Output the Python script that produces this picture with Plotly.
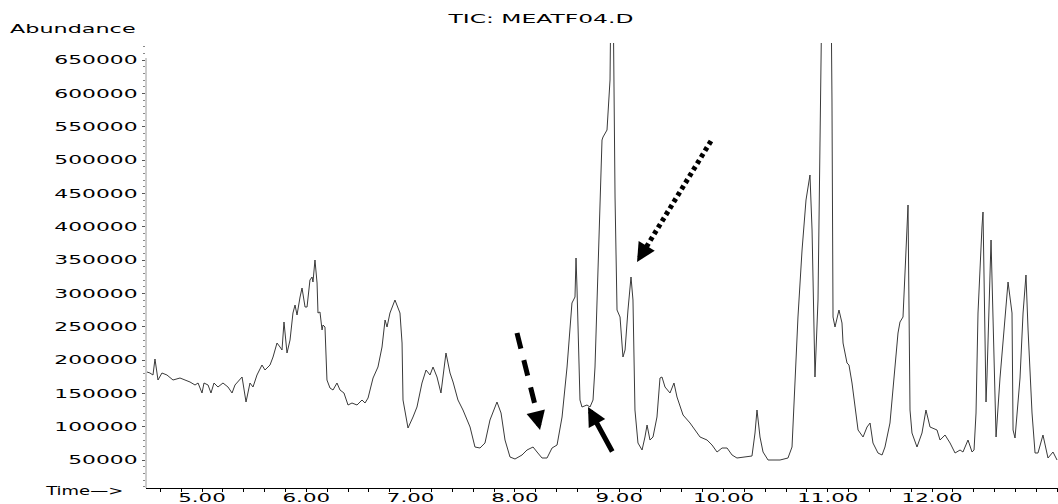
import plotly.graph_objects as go

# Retention time (min) and abundance
time_min = [
    4.473, 4.501, 4.530, 4.549, 4.578, 4.616, 4.664, 4.722, 4.789, 4.885,
    4.933, 4.962, 5.000, 5.019, 5.058, 5.086, 5.115, 5.153, 5.201, 5.249,
    5.288, 5.316, 5.384, 5.422, 5.460, 5.489, 5.527, 5.575, 5.604, 5.652,
    5.681, 5.719, 5.748, 5.767, 5.786, 5.815, 5.844, 5.872, 5.892, 5.911,
    5.940, 5.959, 5.988, 6.007, 6.035, 6.055, 6.064, 6.083, 6.103, 6.112,
    6.131, 6.151, 6.160, 6.179, 6.198, 6.227, 6.256, 6.294, 6.323, 6.361,
    6.400, 6.438, 6.486, 6.534, 6.563, 6.592, 6.611, 6.640, 6.687, 6.726,
    6.755, 6.774, 6.802, 6.850, 6.898, 6.918, 6.927, 6.975, 7.023, 7.061,
    7.109, 7.148, 7.186, 7.215, 7.253, 7.291, 7.339, 7.378, 7.407, 7.454,
    7.502, 7.570, 7.617, 7.665, 7.713, 7.761, 7.828, 7.867, 7.905, 7.953,
    8.001, 8.068, 8.116, 8.174, 8.212, 8.260, 8.308, 8.356, 8.404, 8.452,
    8.500, 8.528, 8.547, 8.576, 8.586, 8.595, 8.605, 8.624, 8.643, 8.691,
    8.720, 8.749, 8.768, 8.797, 8.835, 8.845, 8.883, 8.912, 8.921, 8.941,
    8.960, 8.979, 9.008, 9.036, 9.056, 9.084, 9.113, 9.132, 9.151, 9.180,
    9.219, 9.247, 9.267, 9.295, 9.324, 9.362, 9.391, 9.410, 9.439, 9.487,
    9.525, 9.554, 9.583, 9.612, 9.679, 9.727, 9.775, 9.842, 9.890, 9.938,
    9.986, 10.034, 10.082, 10.129, 10.187, 10.273, 10.302, 10.321, 10.350, 10.379,
    10.427, 10.542, 10.618, 10.657, 10.685, 10.714, 10.753, 10.791, 10.829, 10.849,
    10.868, 10.877, 10.906, 10.925, 10.944, 11.012, 11.031, 11.040, 11.050, 11.069,
    11.107, 11.136, 11.146, 11.184, 11.203, 11.232, 11.261, 11.290, 11.338, 11.376,
    11.405, 11.433, 11.481, 11.520, 11.548, 11.596, 11.644, 11.673, 11.692, 11.721,
    11.750, 11.769, 11.788, 11.807, 11.855, 11.903, 11.941, 11.980, 12.047, 12.076,
    12.124, 12.172, 12.220, 12.268, 12.296, 12.344, 12.383, 12.402, 12.421, 12.440,
    12.478, 12.488, 12.517, 12.526, 12.565, 12.613, 12.651, 12.699, 12.728, 12.766,
    12.776, 12.795, 12.843, 12.872, 12.900, 12.920, 12.958, 12.987, 13.015, 13.063,
    13.111, 13.159, 13.198,
]
abundance = [
    182000, 180500, 177500, 201500, 170000, 180500, 177500, 170000, 173000, 167000,
    162500, 165500, 150500, 165500, 162500, 150500, 165500, 159500, 165500, 159500,
    150500, 162500, 174500, 137000, 165500, 159500, 177500, 192500, 185000, 192500,
    204500, 225500, 219500, 215000, 257000, 210500, 230000, 270500, 282500, 267500,
    294500, 308000, 279500, 279500, 320000, 324500, 317000, 350000, 315500, 270500,
    272000, 245000, 252500, 249500, 170000, 158000, 155000, 165500, 155000, 150500,
    132500, 135500, 132500, 140000, 135500, 143000, 155000, 173000, 189500, 219500,
    260000, 249500, 270500, 290000, 270500, 225500, 140000, 98000, 114500, 129500,
    165500, 185000, 177500, 189500, 174500, 150500, 210500, 180500, 167000, 140000,
    125000, 99500, 69500, 68000, 75500, 110000, 137000, 120500, 80000, 54500,
    51500, 57500, 65000, 69500, 62000, 53000, 53000, 68000, 72500, 114500,
    189500, 249500, 285500, 294500, 353000, 309500, 240500, 140000, 129500, 132500,
    129500, 140000, 189500, 345500, 530000, 534500, 545000, 620000, 760000, 760000,
    444500, 275000, 264500, 204500, 215000, 275000, 324500, 290000, 125000, 75500,
    65000, 84500, 102500, 80000, 84500, 114500, 173000, 174500, 159500, 150500,
    165500, 144500, 129500, 117500, 105500, 95000, 84500, 80000, 72500, 62000,
    68000, 68000, 57500, 53000, 54500, 56000, 90500, 125000, 84500, 62000,
    50000, 50000, 53000, 69500, 165500, 264500, 365000, 440000, 477500, 395000,
    245000, 174500, 290000, 515000, 760000, 760000, 760000, 590000, 264500, 249500,
    275000, 255500, 225500, 195500, 192500, 165500, 129500, 95000, 84500, 99500,
    105500, 75500, 60500, 57500, 69500, 105500, 189500, 240500, 257000, 264500,
    365000, 432500, 125000, 90500, 69500, 90500, 125000, 99500, 95000, 80000,
    87500, 75500, 60500, 65000, 62000, 80000, 62000, 65000, 120500, 270500,
    399500, 422000, 137000, 174500, 380000, 84500, 173000, 270500, 317000, 270500,
    95000, 83000, 173000, 270500, 327500, 245000, 120500, 60500, 60500, 87500,
    53000, 62000, 50000,
]

# Tick labels
x_tick_values = [5, 6, 7, 8, 9, 10, 11, 12]
x_tick_labels = ["5.00", "6.00", "7.00", "8.00", "9.00", "10.00", "11.00", "12.00"]
y_tick_values = [50000 * i for i in range(1, 14)]
y_tick_labels = [str(v) for v in y_tick_values]

# Axis settings
x_range = [4.463, 13.207]
y_range = [8000, 675500]
y_axis_top = 653000

# Annotation arrows (tail -> tip), in data coordinates
solid_arrow = dict(tail=(8.941, 60500), tip=(8.701, 129500))
dashed_arrow = dict(tail=(8.020, 240500), shaft_end=(8.193, 132500), tip=(8.241, 95000))
dotted_arrow = dict(tail=(9.880, 528500), shaft_end=(9.257, 368750), tip=(9.171, 347000))

FONT = "DejaVu Sans"
W, H = 1058, 504
ML, MT, PW, PH = 146, 43, 912, 445
TXT = dict(family=FONT, size=12, color="black")

fig = go.Figure()
fig.add_trace(go.Scatter(
    x=time_min, y=abundance, mode="lines",
    line=dict(color="#3a3a3a", width=1),
    hoverinfo="skip", showlegend=False,
))

fig.update_layout(
    width=W, height=H,
    margin=dict(l=ML, r=W - ML - PW, t=MT, b=H - MT - PH, autoexpand=False),
    paper_bgcolor="white", plot_bgcolor="white",
    showlegend=False,
    font=TXT,
    title=dict(
        text="TIC: MEATF04.D", xref="container", yref="container",
        x=541 / W, xanchor="center", y=1 - 19 / H, yanchor="middle",
        font=TXT,
    ),
)

fig.update_xaxes(
    range=x_range, tickmode="array", tickvals=x_tick_values, ticktext=x_tick_labels,
    ticks="outside", ticklen=3, tickcolor="black", tickwidth=1,
    ticklabelstandoff=-4,
    showline=True, linecolor="black", linewidth=1,
    showgrid=False, zeroline=False,
    tickfont=TXT,
    minor=dict(tickmode="linear", tick0=5, dtick=0.2, ticks="outside",
               ticklen=3, tickcolor="black", showgrid=False),
)
fig.update_yaxes(
    range=y_range, tickmode="array", tickvals=y_tick_values, ticktext=y_tick_labels,
    ticks="outside", ticklen=3, tickcolor="#555555", tickwidth=1,
    ticklabelstandoff=2,
    showline=False, showgrid=False, zeroline=False,
    tickfont=TXT,
    minor=dict(tickmode="linear", tick0=0, dtick=10000, ticks="outside",
               ticklen=2, tickcolor="#888888", showgrid=False),
)

# y axis line (stops at the top tick like the reference)
fig.add_shape(type="line", xref="paper", yref="y", x0=0, x1=0,
              y0=y_range[0], y1=y_axis_top,
              line=dict(color="#9a9a9a", width=1))

# Axis captions
fig.add_annotation(text="Abundance", xref="paper", yref="paper",
                   x=(73 - ML) / PW, y=(MT + PH - 29) / PH,
                   xanchor="center", yanchor="middle", showarrow=False, font=TXT)
fig.add_annotation(text="Time—>", xref="paper", yref="paper",
                   x=(84 - ML) / PW, y=(MT + PH - 491) / PH,
                   xanchor="center", yanchor="middle", showarrow=False, font=TXT)

# Solid arrow
fig.add_annotation(x=solid_arrow["tip"][0], y=solid_arrow["tip"][1],
                   ax=solid_arrow["tail"][0], ay=solid_arrow["tail"][1],
                   axref="x", ayref="y", xref="x", yref="y", text="",
                   showarrow=True, arrowhead=2, arrowsize=0.75, arrowwidth=5,
                   arrowcolor="black", standoff=0)

# Dashed arrow: dashed shaft + head
fig.add_shape(type="line", xref="x", yref="y",
              x0=dashed_arrow["tail"][0], y0=dashed_arrow["tail"][1],
              x1=dashed_arrow["shaft_end"][0], y1=dashed_arrow["shaft_end"][1],
              line=dict(color="black", width=5, dash="16px,12px"))
fig.add_annotation(x=dashed_arrow["tip"][0], y=dashed_arrow["tip"][1],
                   ax=-4, ay=-17, text="", showarrow=True, arrowhead=2,
                   arrowsize=0.75, arrowwidth=5, arrowcolor="black", standoff=0)

# Dotted arrow: dotted shaft + head
fig.add_shape(type="line", xref="x", yref="y",
              x0=dotted_arrow["tail"][0], y0=dotted_arrow["tail"][1],
              x1=dotted_arrow["shaft_end"][0], y1=dotted_arrow["shaft_end"][1],
              line=dict(color="black", width=5, dash="4px,3.5px"))
fig.add_annotation(x=dotted_arrow["tip"][0], y=dotted_arrow["tip"][1],
                   ax=9, ay=-15, text="", showarrow=True, arrowhead=2,
                   arrowsize=0.75, arrowwidth=5, arrowcolor="black", standoff=0)

# Remove the page's default body margin, and stretch the real text
# horizontally around its own anchor (the reference uses an expanded font).
post_script = """
document.body.style.margin = '0px';
document.body.style.padding = '0px';
var gd = document.getElementById('{plot_id}');
function stretch(el, k) {
  var x = parseFloat(el.getAttribute('x') || '0') || 0;
  var tr = el.getAttribute('transform') || '';
  el.setAttribute('transform', tr + ' translate(' + x + ',0) scale(' + k + ',1) translate(' + (-x) + ',0)');
}
gd.querySelectorAll('.ytick text').forEach(function (t) { stretch(t, 1.82); });
gd.querySelectorAll('.xtick text').forEach(function (t) { stretch(t, 1.78); });
gd.querySelectorAll('.gtitle').forEach(function (t) { stretch(t, 1.95); });
gd.querySelectorAll('.annotation-text').forEach(function (t) {
  if (t.textContent.indexOf('Abundance') >= 0) { stretch(t, 1.86); }
  if (t.textContent.indexOf('Time') >= 0) { stretch(t, 1.5); }
});
"""

fig.write_html("out.html", post_script=post_script,
               config={"displayModeBar": False, "staticPlot": True})
